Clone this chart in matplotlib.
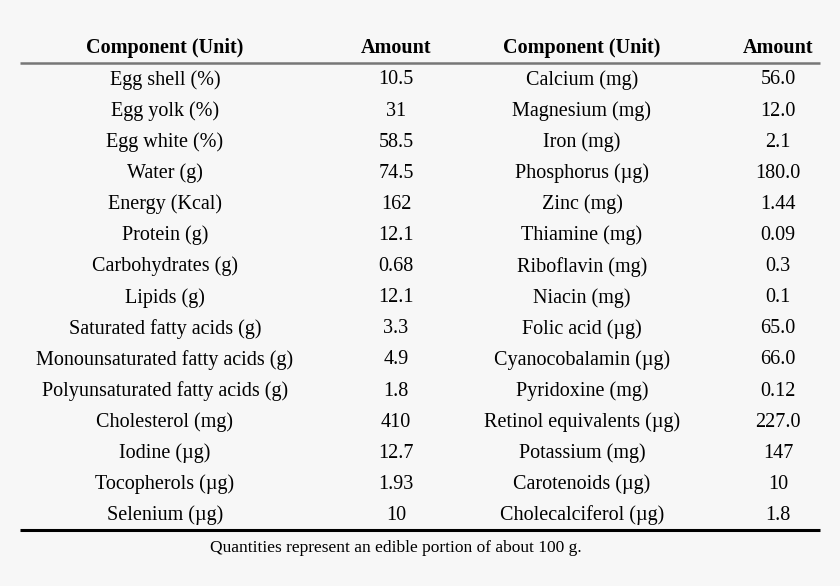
import matplotlib.pyplot as plt

componentes_1 = ["Egg shell (%)", "Egg yolk (%)", "Egg white (%)", "Water (g)",
                 "Energy (Kcal)", "Protein (g)", "Carbohydrates (g)", "Lipids (g)",
                 "Saturated fatty acids (g)", "Monounsaturated fatty acids (g)",
                 "Polyunsaturated fatty acids (g)", "Cholesterol (mg)", "Iodine (µg)",
                 "Tocopherols (µg)", "Selenium (µg)"]
cantidades_1 = ["10.5", "31", "58.5", "74.5", "162", "12.1", "0.68", "12.1",
                "3.3", "4.9", "1.8", "410", "12.7", "1.93", "10"]
componentes_2 = ["Calcium (mg)", "Magnesium (mg)", "Iron (mg)", "Phosphorus (µg)",
                 "Zinc (mg)", "Thiamine (mg)", "Riboflavin (mg)", "Niacin (mg)",
                 "Folic acid (µg)", "Cyanocobalamin (µg)", "Pyridoxine (mg)",
                 "Retinol equivalents (µg)", "Potassium (mg)", "Carotenoids (µg)",
                 "Cholecalciferol (µg)"]
cantidades_2 = ["56.0", "12.0", "2.1", "180.0", "1.44", "0.09", "0.3", "0.1",
                "65.0", "66.0", "0.12", "227.0", "147", "10", "1.8"]
encabezados = ["Component (Unit)", "Amount", "Component (Unit)", "Amount"]
nota = "Quantities represent an edible portion of about 100 g."

plt.rcParams['font.family'] = ['Liberation Serif', 'DejaVu Serif']

fig = plt.figure(figsize=(8.4, 5.86), dpi=100)
fig.patch.set_facecolor("#f7f7f7")
ax = fig.add_axes([0, 0, 1, 1])
ax.set_xlim(0, 840)
ax.set_ylim(586, 0)
ax.axis("off")

xs = [165, 396, 582, 778]
fs = 14.5

# Encabezados
for x, h in zip(xs, encabezados):
    ax.text(x, 48, h, ha="center", va="center", fontsize=fs, fontweight="bold")
ax.plot([20, 820], [62.5, 62.5], color="#777777", lw=1.8, solid_capstyle="butt")

# Filas
columnas = [componentes_1, cantidades_1, componentes_2, cantidades_2]
for i in range(len(componentes_1)):
    y = 80 + i * 31.1
    for x, col in zip(xs, columnas):
        ax.text(x, y, col[i], ha="center", va="center", fontsize=fs)

ax.plot([20, 820], [530, 530], color="black", lw=2.2, solid_capstyle="butt")
ax.text(396, 548, nota, ha="center", va="center", fontsize=12.5)

fig.savefig("out.png", dpi=100, facecolor=fig.get_facecolor())
